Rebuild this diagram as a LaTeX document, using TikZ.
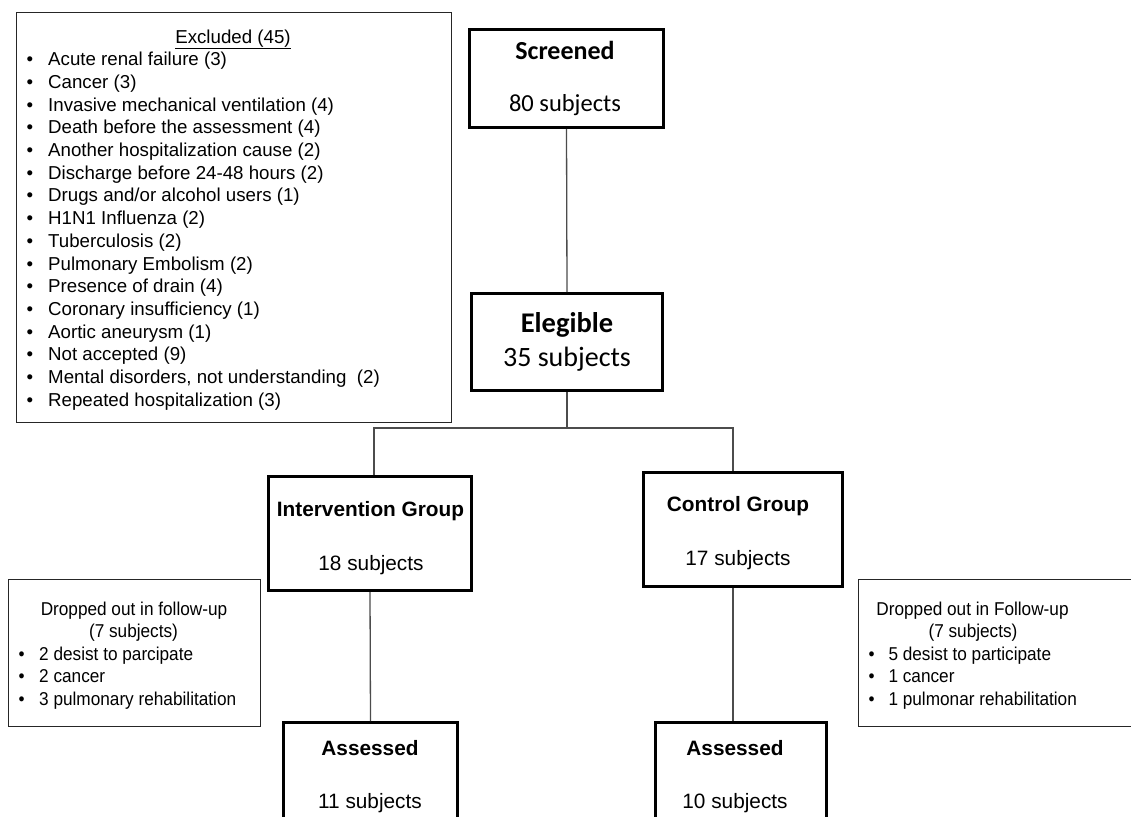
\documentclass[tikz,border=0pt]{standalone}
\usepackage{fontspec}
\setmainfont{Liberation Sans}
\newfontfamily\calfont{Carlito}
\newfontfamily\dropfont[FakeStretch=0.925]{Liberation Sans}
\begin{document}
\begin{tikzpicture}[x=1pt,y=-1pt,
  thickbox/.style={draw=black, line width=3pt, inner sep=0pt},
  thinbox/.style={draw=black!85, line width=1.2pt, inner sep=0pt},
  conn/.style={draw=black!70, line width=1.3pt},
  txt/.style={inner sep=0pt, anchor=base},
  caltitle/.style={txt, font=\calfont\bfseries\fontsize{26}{30}\selectfont},
  calnum/.style={txt, font=\calfont\fontsize{24.5}{28}\selectfont},
  grptitle/.style={txt, font=\bfseries\fontsize{20.8}{24}\selectfont},
  grpnum/.style={txt, font=\fontsize{20.8}{24}\selectfont},
  listtxt/.style={inner sep=0pt, anchor=base west, font=\fontsize{18.7}{22.7}\selectfont},
  listbul/.style={inner sep=0pt, anchor=base, font=\fontsize{18.7}{22.7}\selectfont},
  droptxt/.style={inner sep=0pt, anchor=base west, font=\dropfont\fontsize{18.6}{22}\selectfont},
  dropbul/.style={inner sep=0pt, anchor=base, font=\dropfont\fontsize{18.6}{22}\selectfont},
  dropttl/.style={inner sep=0pt, anchor=base, font=\dropfont\fontsize{18.6}{22}\selectfont}]
\useasboundingbox[fill=white] (0,0) rectangle (1131,816);
\clip (0,0) rectangle (1131,816);

% main boxes
\node[thickbox, minimum width=194pt, minimum height=98pt] (scr) at (566.5,78.5) {};
\node[thickbox, minimum width=191pt, minimum height=97pt] (eleg) at (567,342) {};
\node[thickbox, minimum width=203pt, minimum height=114pt] (int) at (370,533.5) {};
\node[thickbox, minimum width=199pt, minimum height=114pt] (ctl) at (743,529.5) {};
\node[thickbox, minimum width=174pt, minimum height=120pt] (intA) at (370.5,782.5) {};
\node[thickbox, minimum width=171pt, minimum height=120pt] (ctlA) at (741,782.5) {};

% side boxes
\node[thinbox, minimum width=435pt, minimum height=410pt] (excl) at (234,217.5) {};
\node[thinbox, minimum width=252pt, minimum height=147pt] (dropL) at (134.5,653) {};
\node[thinbox, minimum width=281pt, minimum height=147pt] (dropR) at (999,653) {};

% connectors
\coordinate (jn) at (567,428);
\coordinate (jl) at (374,428);
\coordinate (jr) at (733,428);
\draw[conn] (scr.south) -- (eleg.north);
\draw[conn] (eleg.south) -- (jn);
\draw[conn] (jl |- int.north) -- (jl) -- (jr) -- (jr |- ctl.north);
\draw[conn] (int.south) -- (intA.north);
\draw[conn] (jr |- ctl.south) -- (jr |- ctlA.north);

% main box texts
\node[caltitle] (scrT) at (565,59.3) {Screened};
\node[calnum] (scrN) at (565,111.7) {80 subjects};
\node[caltitle, font=\calfont\bfseries\fontsize{28.5}{32}\selectfont] (elegT) at (567,332.7) {Elegible};
\node[calnum, font=\calfont\fontsize{28}{32}\selectfont] (elegN) at (567,366.7) {35 subjects};
\node[grptitle] (intT) at (370.5,516.7) {Intervention Group};
\node[grpnum] (intN) at (371,570) {18 subjects};
\node[grptitle] (ctlT) at (738,511.7) {Control Group};
\node[grpnum] (ctlN) at (738,565) {17 subjects};
\node[grptitle] (intAT) at (370,755) {Assessed};
\node[grpnum] (intAN) at (370,808.3) {11 subjects};
\node[grptitle] (ctlAT) at (735,755) {Assessed};
\node[grpnum] (ctlAN) at (735,808.3) {10 subjects};

% excluded list
\node[listbul] (exT) at (233,43.3) {\underline{Excluded (45)}};
\foreach \t [count=\i] in {Acute renal failure (3), Cancer (3), Invasive mechanical ventilation (4),
  Death before the assessment (4), Another hospitalization cause (2), Discharge before 24-48 hours (2),
  Drugs and/or alcohol users (1), H1N1 Influenza (2), Tuberculosis (2), Pulmonary Embolism (2),
  Presence of drain (4), Coronary insufficiency (1), Aortic aneurysm (1), Not accepted (9),
  {Mental disorders, not understanding\ \ (2)}, Repeated hospitalization (3)} {
  \node[listbul] (exb\i) at (30,{65.7+22.7*(\i-1)}) {•};
  \node[listtxt] (ex\i) at (48,{65.7+22.7*(\i-1)}) {\t};
}

% dropped left
\node[dropttl] (dLT) at (134,615) {Dropped out in follow-up};
\node[dropttl] (dLS) at (133.5,637.3) {(7 subjects)};
\foreach \t [count=\i] in {2 desist to parcipate, 2 cancer, 3 pulmonary rehabilitation} {
  \node[dropbul] (dLb\i) at (21.7,{660+22.5*(\i-1)}) {•};
  \node[droptxt] (dL\i) at (39,{660+22.5*(\i-1)}) {\t};
}

% dropped right
\node[dropttl] (dRT) at (972.5,615) {Dropped out in Follow-up};
\node[dropttl] (dRS) at (973,637.3) {(7 subjects)};
\foreach \t [count=\i] in {5 desist to participate, 1 cancer, 1 pulmonar rehabilitation} {
  \node[dropbul] (dRb\i) at (871.7,{660+22.5*(\i-1)}) {•};
  \node[droptxt] (dR\i) at (888.3,{660+22.5*(\i-1)}) {\t};
}
\end{tikzpicture}
\end{document}
